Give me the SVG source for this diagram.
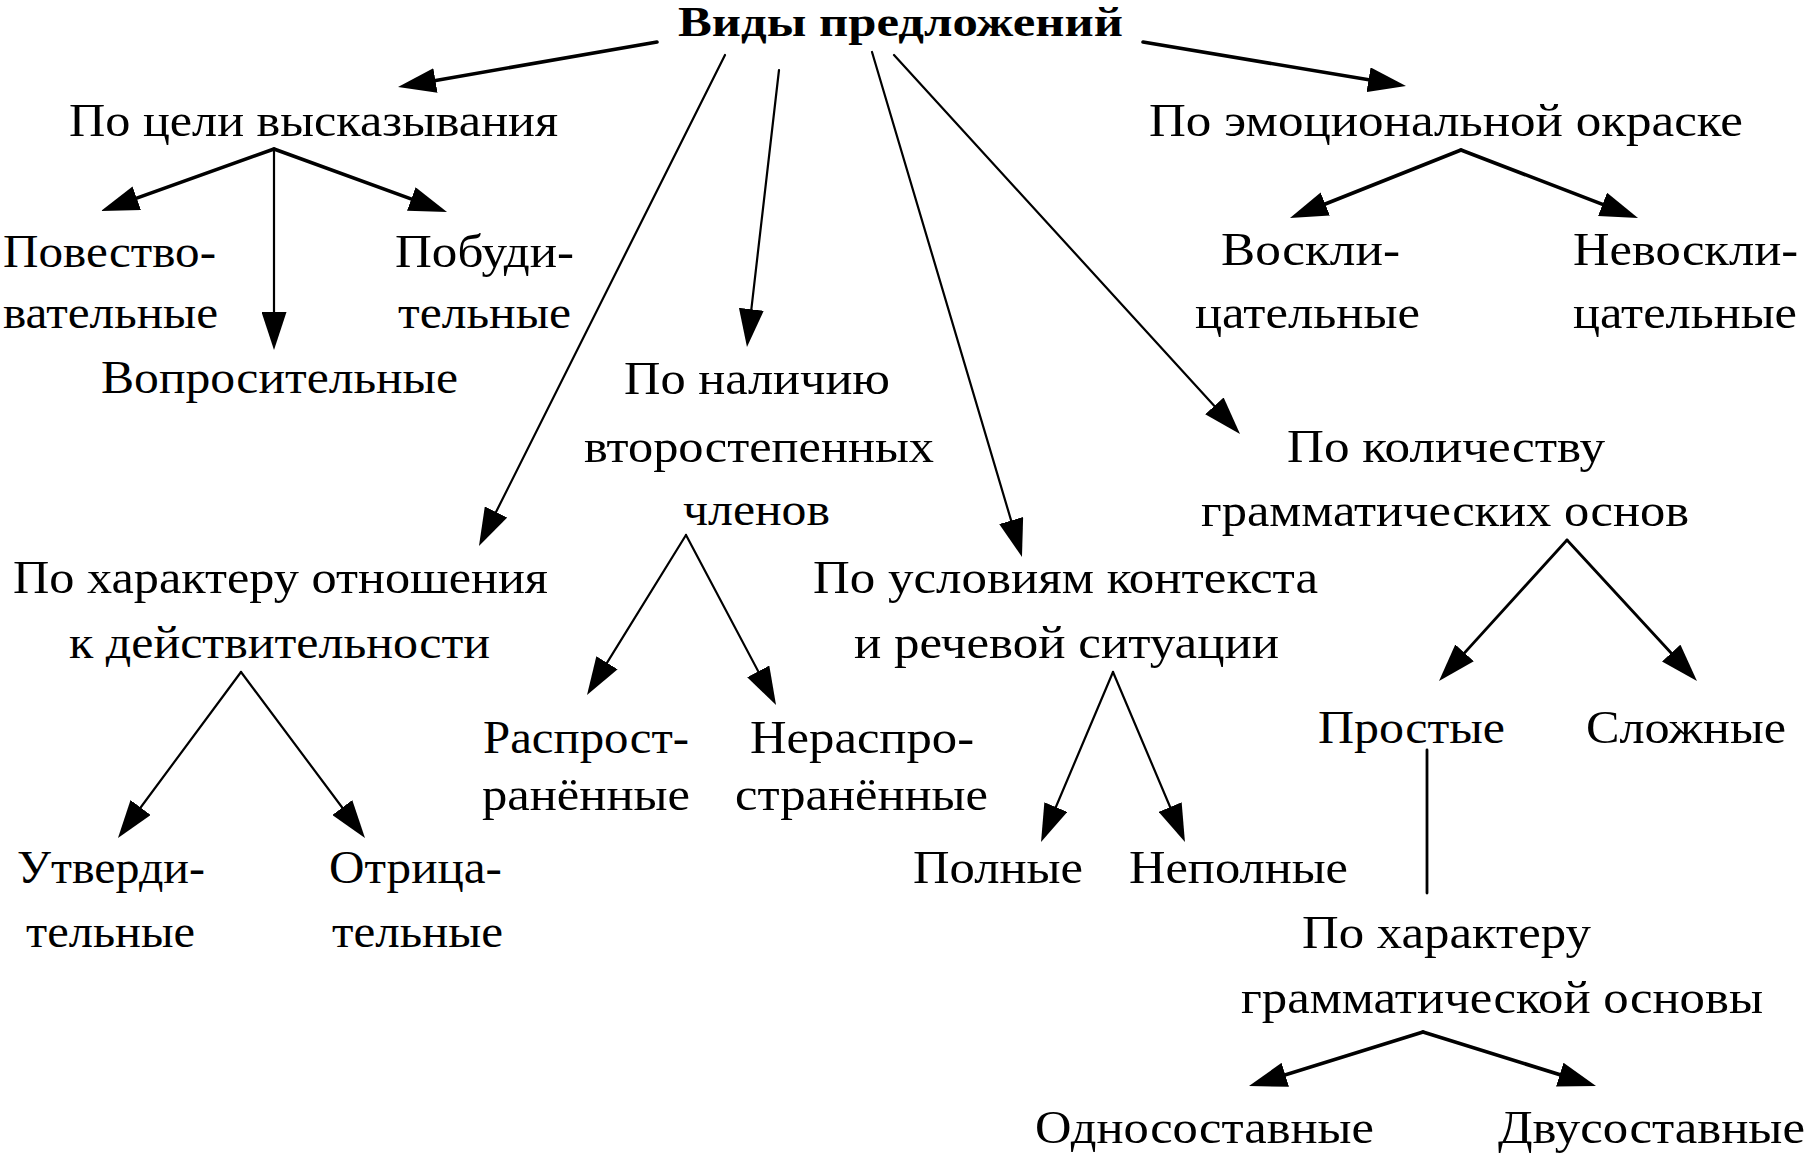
<svg xmlns="http://www.w3.org/2000/svg" width="1808" height="1158" viewBox="0 0 1808 1158">
<style>
text{font-family:"Liberation Serif","Times New Roman",serif;font-size:46px;fill:#000}
.title{font-weight:bold;font-size:42px}
.c line{stroke:#000;stroke-linecap:round;fill:none}
.thick{stroke-width:3.6}
.med{stroke-width:2.8}
.thin{stroke-width:2.2}
</style>
<defs>
<marker id="arr" markerUnits="userSpaceOnUse" viewBox="0 0 38 25" markerWidth="38" markerHeight="25" refX="23" refY="12.5" orient="auto">
<path d="M0,0 L38,12.5 L0,25 Z" fill="#000"/>
</marker>
</defs>
<rect width="1808" height="1158" fill="#fff"/>
<g class="c" id="connectors">
<line class="thick" x1="657" y1="42" x2="412.8" y2="84.4" marker-end="url(#arr)"/>
<line class="thick" x1="274" y1="149" x2="115.1" y2="205.9" marker-end="url(#arr)"/>
<line class="thin" x1="274" y1="149" x2="274" y2="335" marker-end="url(#arr)"/>
<line class="thick" x1="274" y1="149" x2="432.9" y2="206.9" marker-end="url(#arr)"/>
<line class="thin" x1="725" y1="55" x2="485.7" y2="532.6" marker-end="url(#arr)"/>
<line class="thin" x1="779" y1="70" x2="748.7" y2="332.1" marker-end="url(#arr)"/>
<line class="thin" x1="872" y1="52" x2="1017.7" y2="542.6" marker-end="url(#arr)"/>
<line class="thin" x1="894" y1="55" x2="1229.9" y2="422.9" marker-end="url(#arr)"/>
<line class="thick" x1="1143" y1="42" x2="1391.2" y2="83.5" marker-end="url(#arr)"/>
<line class="thick" x1="1461" y1="150" x2="1303.9" y2="212.5" marker-end="url(#arr)"/>
<line class="thick" x1="1461" y1="150" x2="1624" y2="212.6" marker-end="url(#arr)"/>
<line class="thin" x1="686" y1="535" x2="594.9" y2="682.3" marker-end="url(#arr)"/>
<line class="thin" x1="686" y1="535" x2="769" y2="691.7" marker-end="url(#arr)"/>
<line class="thin" x1="241" y1="672" x2="126.9" y2="826" marker-end="url(#arr)"/>
<line class="thin" x1="241" y1="672" x2="356" y2="826" marker-end="url(#arr)"/>
<line class="thin" x1="1113" y1="672" x2="1046.9" y2="828.2" marker-end="url(#arr)"/>
<line class="thin" x1="1113" y1="672" x2="1179.1" y2="828.2" marker-end="url(#arr)"/>
<line class="med" x1="1567" y1="540" x2="1449.1" y2="669.9" marker-end="url(#arr)"/>
<line class="med" x1="1567" y1="540" x2="1686.8" y2="670" marker-end="url(#arr)"/>
<line class="med" x1="1427" y1="750" x2="1427" y2="893"/>
<line class="thick" x1="1423" y1="1032" x2="1263.3" y2="1081.6" marker-end="url(#arr)"/>
<line class="thick" x1="1423" y1="1032" x2="1581.7" y2="1081.5" marker-end="url(#arr)"/>
</g>
<g id="root"><text class="title" x="678" y="36" textLength="445" lengthAdjust="spacingAndGlyphs">Виды предложений</text></g>
<g id="po-celi"><text x="69" y="136" textLength="489" lengthAdjust="spacingAndGlyphs">По цели высказывания</text></g>
<g id="po-emoc"><text x="1149" y="136" textLength="594" lengthAdjust="spacingAndGlyphs">По эмоциональной окраске</text></g>
<g id="povestv"><text x="3" y="267" textLength="213" lengthAdjust="spacingAndGlyphs">Повество-</text><text x="3" y="328" textLength="215" lengthAdjust="spacingAndGlyphs">вательные</text></g>
<g id="pobud"><text x="395" y="267" textLength="179" lengthAdjust="spacingAndGlyphs">Побуди-</text><text x="398" y="328" textLength="173" lengthAdjust="spacingAndGlyphs">тельные</text></g>
<g id="vopros"><text x="101" y="393" textLength="357" lengthAdjust="spacingAndGlyphs">Вопросительные</text></g>
<g id="voskl"><text x="1221" y="265" textLength="179" lengthAdjust="spacingAndGlyphs">Воскли-</text><text x="1195" y="328" textLength="225" lengthAdjust="spacingAndGlyphs">цательные</text></g>
<g id="nevoskl"><text x="1573" y="265" textLength="225" lengthAdjust="spacingAndGlyphs">Невоскли-</text><text x="1573" y="328" textLength="224" lengthAdjust="spacingAndGlyphs">цательные</text></g>
<g id="po-nalich"><text x="624" y="394" textLength="266" lengthAdjust="spacingAndGlyphs">По наличию</text><text x="584" y="462" textLength="350" lengthAdjust="spacingAndGlyphs">второстепенных</text><text x="683" y="525" textLength="147" lengthAdjust="spacingAndGlyphs">членов</text></g>
<g id="po-kolich"><text x="1287" y="462" textLength="318" lengthAdjust="spacingAndGlyphs">По количеству</text><text x="1201" y="526" textLength="488" lengthAdjust="spacingAndGlyphs">грамматических основ</text></g>
<g id="po-harakt-otn"><text x="13" y="593" textLength="535" lengthAdjust="spacingAndGlyphs">По характеру отношения</text><text x="69" y="658" textLength="421" lengthAdjust="spacingAndGlyphs">к действительности</text></g>
<g id="po-uslov"><text x="813" y="593" textLength="505" lengthAdjust="spacingAndGlyphs">По условиям контекста</text><text x="854" y="658" textLength="425" lengthAdjust="spacingAndGlyphs">и речевой ситуации</text></g>
<g id="rasprostr"><text x="483" y="753" textLength="206" lengthAdjust="spacingAndGlyphs">Распрост-</text><text x="482" y="810" textLength="208" lengthAdjust="spacingAndGlyphs">ранённые</text></g>
<g id="nerasprostr"><text x="750" y="753" textLength="224" lengthAdjust="spacingAndGlyphs">Нераспро-</text><text x="735" y="810" textLength="253" lengthAdjust="spacingAndGlyphs">странённые</text></g>
<g id="prostye"><text x="1318" y="743" textLength="187" lengthAdjust="spacingAndGlyphs">Простые</text></g>
<g id="slozhnye"><text x="1586" y="743" textLength="200" lengthAdjust="spacingAndGlyphs">Сложные</text></g>
<g id="utverd"><text x="17" y="883" textLength="188" lengthAdjust="spacingAndGlyphs">Утверди-</text><text x="26" y="947" textLength="169" lengthAdjust="spacingAndGlyphs">тельные</text></g>
<g id="otric"><text x="329" y="883" textLength="173" lengthAdjust="spacingAndGlyphs">Отрица-</text><text x="332" y="947" textLength="171" lengthAdjust="spacingAndGlyphs">тельные</text></g>
<g id="polnye"><text x="913" y="883" textLength="170" lengthAdjust="spacingAndGlyphs">Полные</text></g>
<g id="nepolnye"><text x="1129" y="883" textLength="219" lengthAdjust="spacingAndGlyphs">Неполные</text></g>
<g id="po-harakt-osn"><text x="1302" y="948" textLength="289" lengthAdjust="spacingAndGlyphs">По характеру</text><text x="1241" y="1013" textLength="522" lengthAdjust="spacingAndGlyphs">грамматической основы</text></g>
<g id="odnosost"><text x="1035" y="1143" textLength="339" lengthAdjust="spacingAndGlyphs">Односоставные</text></g>
<g id="dvusost"><text x="1498" y="1143" textLength="307" lengthAdjust="spacingAndGlyphs">Двусоставные</text></g>
</svg>
